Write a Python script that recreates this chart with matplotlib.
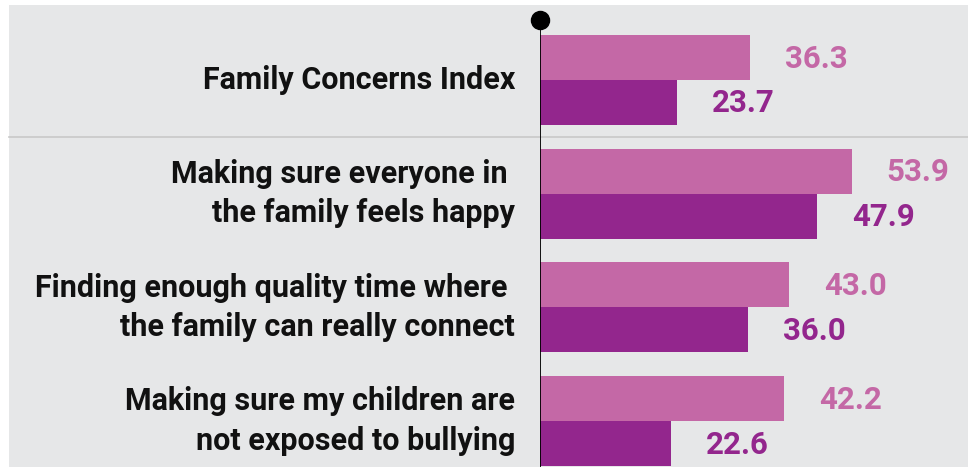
import numpy as np
import matplotlib
matplotlib.use("Agg")
import matplotlib.pyplot as plt
from matplotlib.patches import Rectangle
from matplotlib.transforms import blended_transform_factory

categories = [
    "Family Concerns Index",
    "Making sure everyone in \nthe family feels happy",
    "Finding enough quality time where \nthe family can really connect",
    "Making sure my children are\nnot exposed to bullying",
]
light_values = [36.3, 53.9, 43.0, 42.2]
dark_values = [23.7, 47.9, 36.0, 22.6]

light_color = "#c468a6"
dark_color = "#93268d"
bg_color = "#e6e7e8"

plt.rcParams['font.family'] = ['Roboto', 'DejaVu Sans']

W, H = 968, 467
fig = plt.figure(figsize=(W / 100, H / 100), dpi=100)
fig.patch.set_facecolor("white")
fig.patches.append(Rectangle((9 / W, 0), 1 - 9 / W, (H - 5) / H,
                             transform=fig.transFigure, facecolor=bg_color,
                             edgecolor="none", zorder=-10))

# axes from x=540px to right edge, y from 20px to bottom
ax = fig.add_axes([540 / W, 0, (W - 540) / W, (H - 20) / H])
ax.set_facecolor("none")

pitch = 113.7
top = (20 - 80) / pitch
bottom = (H - 80) / pitch
ax.set_ylim(bottom, top)
ax.set_xlim(0, (W - 540) / 5.785)

bh = 0.395
y = np.arange(len(categories))
ax.barh(y - bh / 2, light_values, height=bh, color=light_color, zorder=2)
ax.barh(y + bh / 2, dark_values, height=bh, color=dark_color, zorder=2)

for i, (lv, dv) in enumerate(zip(light_values, dark_values)):
    ax.annotate(f"{lv:.1f}", (lv, i - bh / 2), xytext=(35, -1), textcoords="offset pixels",
                ha="left", va="center", fontsize=22.5, fontweight="bold", color=light_color)
    ax.annotate(f"{dv:.1f}", (dv, i + bh / 2), xytext=(35, -1), textcoords="offset pixels",
                ha="left", va="center", fontsize=22.5, fontweight="bold", color=dark_color)
    ax.annotate(categories[i], (0, i), xytext=(-25, 0), textcoords="offset pixels",
                ha="right", va="center", ma="right", fontsize=22, fontweight="bold",
                color="#111111", linespacing=1.4, annotation_clip=False)

# separator line under the index row
tr = blended_transform_factory(fig.transFigure, ax.transData)
ax.plot([9 / W, 1], [0.5, 0.5], transform=tr, color="#c8c8c8", lw=1.2, clip_on=False, zorder=1)

# axis line with dot on top
ax.axvline(0, color="black", lw=1.3, zorder=3)
ax.plot([0], [top], "o", color="black", ms=13, clip_on=False, zorder=4)

for s in ax.spines.values():
    s.set_visible(False)
ax.set_xticks([])
ax.set_yticks([])

fig.savefig("out.png", dpi=100)
